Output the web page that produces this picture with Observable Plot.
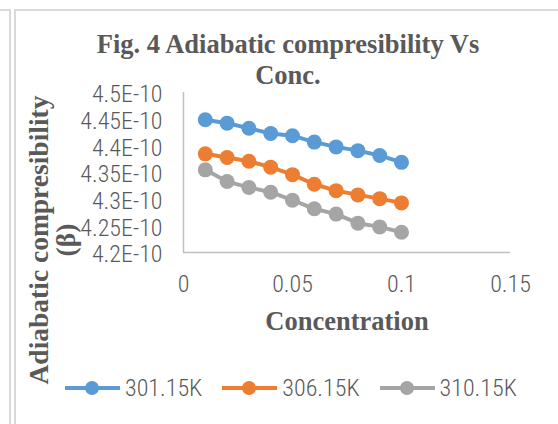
<!DOCTYPE html>
<html><head><meta charset="utf-8">
<script src="https://cdn.jsdelivr.net/npm/d3@7"></script>
<script src="https://cdn.jsdelivr.net/npm/@observablehq/plot@0.6"></script>
<style>
body{margin:0;background:#fff;}
#wrap{position:relative;width:558px;height:424px;overflow:hidden;background:#fff;}
.frame{position:absolute;background:#d9d9d9;}
.serif{position:absolute;font-family:"Liberation Serif","Times New Roman",serif;font-weight:bold;color:#595959;white-space:nowrap;line-height:1;}
#plot{position:absolute;left:0;top:0;}
#legend{position:absolute;left:65px;top:374px;display:flex;font-family:"Liberation Sans Narrow","Roboto Condensed",Roboto,sans-serif;font-weight:300;font-size:24px;color:#595959;}
.item{display:flex;align-items:center;margin-right:20px;}
.item svg{margin-right:5px;}
</style>
</head><body>
<div id="wrap">
  <div class="frame" style="left:0;top:9px;width:11px;height:2px"></div>
  <div class="frame" style="left:9px;top:9px;width:2px;height:420px"></div>
  <div class="frame" style="left:14px;top:9px;width:544px;height:2px"></div>
  <div class="frame" style="left:14px;top:9px;width:2px;height:420px"></div>
  <div id="plot"></div>
  <div class="serif" id="title" style="left:288px;top:29px;transform:translateX(-50%);text-align:center;font-size:26.5px;line-height:31px;">Fig. 4 Adiabatic compresibility Vs<br>Conc.</div>
  <div class="serif" id="xtitle" style="left:347px;top:308px;transform:translateX(-50%);font-size:26.5px;">Concentration</div>
  <div class="serif" id="ytitle" style="left:52px;top:240px;transform:translate(-50%,-50%) rotate(-90deg);text-align:center;font-size:27.5px;line-height:27px;">Adiabatic compresibility<br>(β)</div>
  <div id="legend"></div>
</div>
<script>
const conc = [0.01, 0.02, 0.03, 0.04, 0.05, 0.06, 0.07, 0.08, 0.09, 0.10];
const seriesNames = ["301.15K", "306.15K", "310.15K"];
const s301 = [4.449e-10, 4.4425e-10, 4.433e-10, 4.423e-10, 4.419e-10, 4.407e-10, 4.398e-10, 4.391e-10, 4.382e-10, 4.369e-10];
const s306 = [4.385e-10, 4.378e-10, 4.371e-10, 4.360e-10, 4.346e-10, 4.328e-10, 4.316e-10, 4.308e-10, 4.301e-10, 4.293e-10];
const s310 = [4.355e-10, 4.333e-10, 4.322e-10, 4.313e-10, 4.298e-10, 4.282e-10, 4.272e-10, 4.255e-10, 4.248e-10, 4.238e-10];
const colors = ["#5b9bd5", "#ed7d31", "#a5a5a5"];
const yTicks = [4.2e-10, 4.25e-10, 4.3e-10, 4.35e-10, 4.4e-10, 4.45e-10, 4.5e-10];
const yTickLabels = ["4.2E-10", "4.25E-10", "4.3E-10", "4.35E-10", "4.4E-10", "4.45E-10", "4.5E-10"];
const xTicks = [0, 0.05, 0.1, 0.15];
const xTickLabels = ["0", "0.05", "0.1", "0.15"];

const seriesValues = [s301, s306, s310];
const rows = [];
seriesNames.forEach((name, i) => conc.forEach((c, j) => rows.push({c, v: seriesValues[i][j], s: name})));

const lab = (ticks, labels) => d => labels[ticks.findIndex(t => Math.abs(t - d) < Math.abs(t) * 1e-6 + 1e-12)];
const tickFont = '"Liberation Sans Narrow","Roboto Condensed",Roboto,sans-serif';

const chart = Plot.plot({
  width: 558, height: 424,
  marginLeft: 183, marginRight: 48, marginTop: 92, marginBottom: 172,
  x: {domain: [0, 0.15]},
  y: {domain: [4.2e-10, 4.5e-10]},
  color: {domain: seriesNames, range: colors},
  style: {fontFamily: tickFont, fontSize: "24px", fontWeight: 300, color: "#595959", background: "transparent", overflow: "visible"},
  marks: [
    Plot.axisY({ticks: yTicks, tickFormat: lab(yTicks, yTickLabels), tickSize: 0, tickPadding: 21, fontSize: 24, label: null, dy: 2}),
    Plot.axisX({ticks: xTicks, tickFormat: lab(xTicks, xTickLabels), tickSize: 0, tickPadding: 22, fontSize: 24, label: null}),
    Plot.ruleX([0], {stroke: "#bfbfbf", strokeWidth: 1.5}),
    Plot.ruleY([4.2e-10], {stroke: "#bfbfbf", strokeWidth: 1.5}),
    Plot.line(rows, {x: "c", y: "v", z: "s", stroke: "s", strokeWidth: 4}),
    Plot.dot(rows, {x: "c", y: "v", fill: "s", r: 7.5})
  ]
});
document.getElementById("plot").appendChild(chart);

const legend = d3.select("#legend");
seriesNames.forEach((name, i) => {
  const item = legend.append("div").attr("class", "item");
  const svg = item.append("svg").attr("width", 55).attr("height", 24);
  svg.append("line").attr("x1", 0).attr("x2", 55).attr("y1", 12).attr("y2", 12).attr("stroke", colors[i]).attr("stroke-width", 4);
  svg.append("circle").attr("cx", 27).attr("cy", 12).attr("r", 7).attr("fill", colors[i]);
  item.append("span").text(name);
});
</script>
</body></html>
